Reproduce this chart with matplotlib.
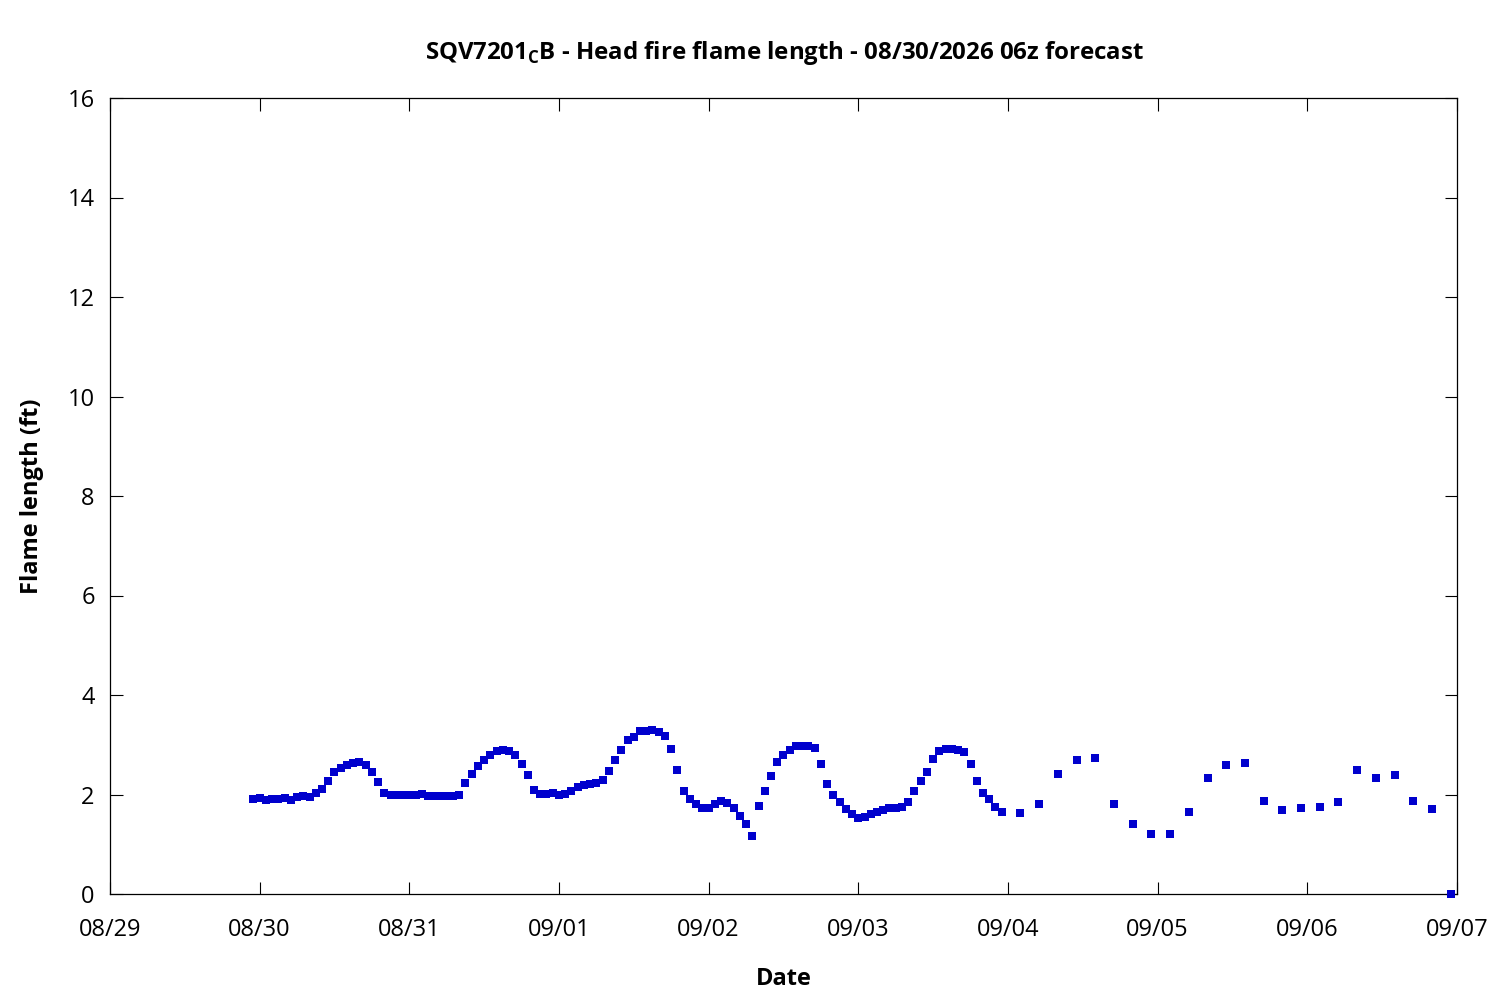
import matplotlib
matplotlib.use("Agg")
import matplotlib.pyplot as plt
import matplotlib.dates as mdates
import pandas as pd

plt.rcParams['font.family'] = ['Open Sans', 'DejaVu Sans']
plt.rcParams['mathtext.fontset'] = 'custom'
plt.rcParams['mathtext.rm'] = 'Open Sans'
plt.rcParams['mathtext.bf'] = 'Open Sans:bold'

# ---- data ----
hourly_start = "2026-08-29 23:00"
hourly_values = [
    1.90, 1.93, 1.88, 1.90, 1.90, 1.93, 1.89, 1.95, 1.97, 1.94,
    2.04, 2.12, 2.28, 2.45, 2.53, 2.59, 2.63, 2.65, 2.59, 2.45,
    2.26, 2.04, 2.00, 2.00, 1.98, 1.98, 1.98, 2.02, 1.96, 1.96,
    1.96, 1.96, 1.96, 1.99, 2.24, 2.41, 2.57, 2.69, 2.79, 2.87,
    2.89, 2.87, 2.79, 2.61, 2.39, 2.10, 2.02, 2.02, 2.04, 1.98,
    2.02, 2.07, 2.15, 2.19, 2.21, 2.23, 2.29, 2.47, 2.69, 2.89,
    3.10, 3.15, 3.28, 3.28, 3.30, 3.25, 3.17, 2.91, 2.49, 2.07,
    1.91, 1.80, 1.72, 1.72, 1.80, 1.87, 1.82, 1.72, 1.57, 1.41,
    1.17, 1.77, 2.07, 2.37, 2.65, 2.79, 2.89, 2.97, 2.97, 2.97,
    2.93, 2.61, 2.22, 1.98, 1.84, 1.70, 1.60, 1.52, 1.54, 1.61,
    1.65, 1.69, 1.72, 1.72, 1.75, 1.85, 2.08, 2.28, 2.45, 2.71,
    2.87, 2.91, 2.91, 2.89, 2.85, 2.61, 2.28, 2.04, 1.90, 1.74,
    1.64,
]
threehourly_start = "2026-09-04 02:00"
threehourly_values = [
    1.62, 1.80, 2.41, 2.69, 2.73, 1.80, 1.40, 1.20, 1.20, 1.64,
    2.33, 2.59, 2.63, 1.86, 1.68, 1.72, 1.74, 1.84, 2.49, 2.33,
    2.39, 1.86, 1.70, 0.00,
]
title_text = r"SQV7201$_\mathbf{C}$B - Head fire flame length - 08/30/2026 06z forecast"
x_label = "Date"
y_label = "Flame length (ft)"
x_start, x_end = "2026-08-29", "2026-09-07"
y_ticks = [0, 2, 4, 6, 8, 10, 12, 14, 16]

times = list(pd.date_range(hourly_start, periods=len(hourly_values), freq="h")) + \
        list(pd.date_range(threehourly_start, periods=len(threehourly_values), freq="3h"))
values = hourly_values + threehourly_values

fig = plt.figure(figsize=(15, 10), dpi=100)
ax = fig.add_axes([0.0733, 0.106, 0.898, 0.796])
ax.plot(times, values, linestyle="none", marker="s", markersize=6.0,
        color="#0000cd", markeredgewidth=0, clip_on=False, zorder=3)

ax.set_xlim(pd.Timestamp(x_start), pd.Timestamp(x_end))
ax.set_ylim(0, 16)
ax.set_yticks(y_ticks)
ax.xaxis.set_major_locator(mdates.DayLocator())
ax.xaxis.set_major_formatter(mdates.DateFormatter("%m/%d"))

ax.tick_params(axis="both", which="major", direction="in", length=9, width=0.8,
               top=True, right=True, labelsize=17, pad=11, colors="black")
ax.tick_params(axis="x", pad=17)
for s in ax.spines.values():
    s.set_linewidth(0.9)

ax.set_xlabel(x_label, fontsize=17, fontweight="bold", labelpad=18)
ax.set_ylabel(y_label, fontsize=17, fontweight="bold", labelpad=17)
fig.text(0.5227, 0.947, title_text, ha="center", va="center",
         fontsize=17.3, fontweight="bold")

fig.savefig("out.png", dpi=100)
